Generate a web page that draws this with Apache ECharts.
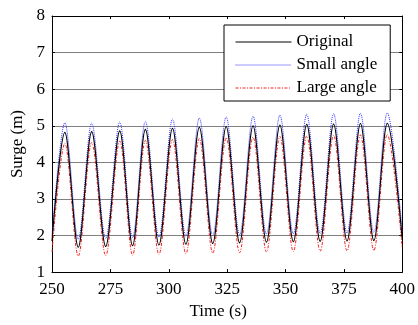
<!DOCTYPE html>
<html><head><meta charset="utf-8">
<script src="https://cdn.jsdelivr.net/npm/echarts@6/dist/echarts.min.js"></script>
<style>html,body{margin:0;padding:0;background:#fff}#c{width:418px;height:325px}</style>
</head><body><div id="c"></div><script>
// Time of each crest and trough (s)
const peakTimes   = [255.5, 267.0, 279.0, 290.0, 301.6, 313.1, 324.6, 336.1, 347.6, 359.1, 370.6, 382.1, 393.6];
const troughTimes = [261.25, 273.0, 284.5, 295.8, 307.35, 318.85, 330.35, 341.85, 353.35, 364.85, 376.35, 387.85];
const startTime = 250, endTime = 400;

// Original
const originalStart = 1.85, originalEnd = 1.9;
const originalPeaks   = [4.82, 4.84, 4.86, 4.90, 4.93, 4.96, 4.98, 5.00, 5.02, 5.04, 5.05, 5.06, 5.07];
const originalTroughs = [1.68, 1.70, 1.72, 1.74, 1.76, 1.78, 1.80, 1.82, 1.83, 1.84, 1.85, 1.86];
// Small angle
const smallStart = 2.0, smallEnd = 2.1;
const smallPeaks   = [5.08, 5.07, 5.10, 5.12, 5.18, 5.21, 5.24, 5.26, 5.29, 5.31, 5.33, 5.34, 5.35];
const smallTroughs = [1.90, 1.92, 1.94, 1.96, 1.98, 2.00, 2.02, 2.04, 2.05, 2.06, 2.07, 2.08];
// Large angle
const largeStart = 1.55, largeEnd = 1.65;
const largePeaks   = [4.52, 4.54, 4.58, 4.60, 4.62, 4.65, 4.67, 4.69, 4.71, 4.72, 4.74, 4.75, 4.76];
const largeTroughs = [1.44, 1.45, 1.46, 1.48, 1.50, 1.52, 1.53, 1.55, 1.56, 1.57, 1.58, 1.59];

const xTicks = [250, 275, 300, 325, 350, 375, 400];
const yTicks = [1, 2, 3, 4, 5, 6, 7, 8];

function build(s, peaks, troughs, e) {
  const d = [[startTime, s]];
  for (let i = 0; i < peaks.length; i++) {
    d.push([peakTimes[i], peaks[i]]);
    if (i < troughs.length) d.push([troughTimes[i], troughs[i]]);
  }
  d.push([endTime, e]);
  return d;
}

const font = 'Liberation Serif';
const chart = echarts.init(document.getElementById('c'), null, {renderer: 'canvas'});
const axisCommon = {
  axisLine: {show: true, lineStyle: {color: '#000', width: 1}},
  axisTick: {show: true, inside: true, length: 3, lineStyle: {color: '#000'}},
};
chart.setOption({
  animation: false,
  backgroundColor: '#fff',
  grid: {left: 52, right: 14, top: 16, bottom: 48, containLabel: false},
  legend: {
    orient: 'vertical', left: 224, top: 25,
    backgroundColor: '#fff', borderColor: '#000', borderWidth: 1,
    padding: [8.5, 13, 4.5, 11], itemGap: 6, itemWidth: 56, itemHeight: 14,
    itemStyle: {opacity: 0},
    lineStyle: {color: 'inherit', width: 1, type: 'inherit', dashOffset: 'inherit', opacity: 'inherit',
                cap: 'inherit', join: 'inherit', miterLimit: 'inherit'},
    textStyle: {fontFamily: font, fontSize: 17, color: '#000', lineHeight: 17},
    data: ['Original', 'Small angle', 'Large angle'], z: 10
  },
  xAxis: [
    Object.assign({type: 'value', min: xTicks[0], max: xTicks[xTicks.length-1], interval: 25,
      name: 'Time (s)', nameLocation: 'middle', nameGap: 30,
      nameTextStyle: {fontFamily: font, fontSize: 17, color: '#000', padding: [0, 18, 0, 0]},
      axisLabel: {fontFamily: font, fontSize: 17, color: '#000', margin: 9},
      splitLine: {show: false}}, axisCommon),
    Object.assign({type: 'value', position: 'top', min: xTicks[0], max: xTicks[xTicks.length-1], interval: 25,
      axisLabel: {show: false}, splitLine: {show: false}}, axisCommon)
  ],
  yAxis: [
    Object.assign({type: 'value', min: yTicks[0], max: yTicks[yTicks.length-1], interval: 1,
      name: 'Surge (m)', nameLocation: 'middle', nameGap: 25,
      nameTextStyle: {fontFamily: font, fontSize: 17, color: '#000'},
      axisLabel: {fontFamily: font, fontSize: 17, color: '#000', margin: 7},
      splitLine: {show: true, lineStyle: {color: '#808080', width: 1}}}, axisCommon),
    Object.assign({type: 'value', position: 'right', min: yTicks[0], max: yTicks[yTicks.length-1], interval: 1,
      axisLabel: {show: false}, splitLine: {show: false}}, axisCommon)
  ],
  series: [
    {name: 'Original', type: 'line', data: build(originalStart, originalPeaks, originalTroughs, originalEnd),
     smooth: 0.33, symbol: 'none', z: 4, color: '#000',
     lineStyle: {color: '#000', width: 1.1, type: 'solid'}},
    {name: 'Small angle', type: 'line', data: build(smallStart, smallPeaks, smallTroughs, smallEnd),
     smooth: 0.33, symbol: 'none', z: 3, color: '#3333ff',
     lineStyle: {color: '#3333ff', width: 1, type: [1, 1]}},
    {name: 'Large angle', type: 'line', data: build(largeStart, largePeaks, largeTroughs, largeEnd),
     smooth: 0.33, symbol: 'none', z: 2, color: '#ff1a1a',
     lineStyle: {color: '#ff1a1a', width: 1, type: [3, 1.5, 1, 1.5]}}
  ]
});
</script></body></html>
